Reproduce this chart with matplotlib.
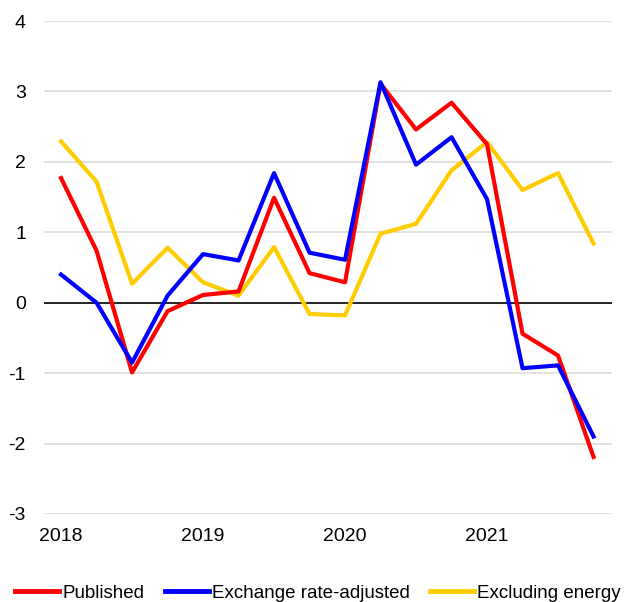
import matplotlib
matplotlib.use("Agg")
import matplotlib.pyplot as plt
from matplotlib.ticker import FuncFormatter

plt.rcParams['font.family'] = ['Liberation Sans', 'DejaVu Sans']
plt.rcParams['axes.unicode_minus'] = False

quarters = ["2018Q1", "2018Q2", "2018Q3", "2018Q4",
            "2019Q1", "2019Q2", "2019Q3", "2019Q4",
            "2020Q1", "2020Q2", "2020Q3", "2020Q4",
            "2021Q1", "2021Q2", "2021Q3", "2021Q4"]
published = [1.77, 0.74, -0.99, -0.12, 0.11, 0.16, 1.49, 0.42,
             0.29, 3.11, 2.46, 2.84, 2.25, -0.44, -0.75, -2.19]
exchange_adj = [0.40, 0.00, -0.85, 0.10, 0.69, 0.60, 1.84, 0.71,
                0.61, 3.13, 1.96, 2.35, 1.47, -0.93, -0.89, -1.90]
excl_energy = [2.29, 1.72, 0.27, 0.78, 0.29, 0.10, 0.79, -0.16,
               -0.18, 0.98, 1.12, 1.88, 2.28, 1.60, 1.84, 0.84]
year_labels = ["2018", "2019", "2020", "2021"]
y_ticks = [-3, -2, -1, 0, 1, 2, 3, 4]

fig = plt.figure(figsize=(6.24, 6.02), dpi=100)
ax = fig.add_axes([44/624, 1-514/602, (612-44)/624, (514-21)/602])

x = list(range(len(quarters)))
ax.plot(x, published, color="#FF0000", lw=3, label="Published", zorder=3)
ax.plot(x, exchange_adj, color="#0000FF", lw=3, label="Exchange rate-adjusted", zorder=4)
ax.plot(x, excl_energy, color="#FFCC00", lw=3, label="Excluding energy", zorder=2)

ax.set_xlim(-0.48, 15.52)
ax.set_ylim(-3, 4)
ax.set_yticks(y_ticks)
ax.yaxis.set_major_formatter(FuncFormatter(lambda v, p: "%d" % v))
for v in y_ticks:
    if v != 0:
        ax.axhline(v, color="#dcdcdc", lw=1.2, zorder=1)
ax.axhline(0, color="black", lw=1.2, zorder=1.5)

year_pos = [quarters.index(y + "Q1") for y in year_labels]
ax.set_xticks(year_pos)
ax.set_xticklabels(year_labels)

for s in ax.spines.values():
    s.set_visible(False)
ax.tick_params(axis="both", length=0, labelsize=14, colors="#000000")
ax.tick_params(axis="y", pad=13)
ax.tick_params(axis="x", pad=10)

leg = fig.legend(loc="center left", bbox_to_anchor=(15/624, 1-593/602), ncol=3,
                 frameon=False, fontsize=13.5, handlelength=2.35,
                 handletextpad=0.16, columnspacing=1.1, borderaxespad=0,
                 borderpad=0)
for h in leg.get_lines():
    h.set_linewidth(3.5)

fig.savefig("out.png", dpi=100)
